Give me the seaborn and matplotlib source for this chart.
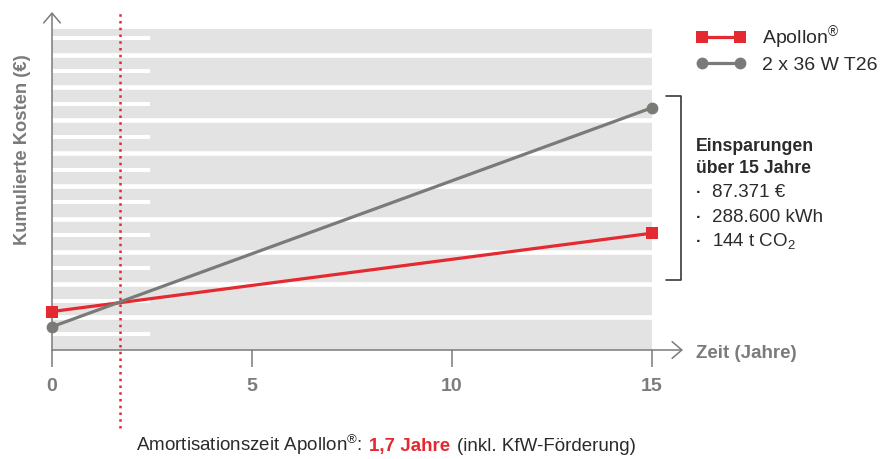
import matplotlib
matplotlib.use('Agg')
import matplotlib.pyplot as plt
from matplotlib.lines import Line2D
from matplotlib.offsetbox import AnchoredOffsetbox, HPacker, TextArea
import pandas as pd
import seaborn as sns

# Daten (Kosten in T€; y-Achse ohne Werte)
jahre = [0, 15]
kosten_apollon = [26.8, 81.4]
kosten_t26 = [16.2, 168.8]
systeme = ['Apollon$^{®}$', '2 x 36 W T26']
xticks = [0, 5, 10, 15]
amortisation = 1.7
einsparungen = ['87.371 €', '288.600 kWh', '144 t CO$_2$']

# Stil
sns.set_theme(style='white')
plt.rcParams['font.family'] = ['Liberation Sans', 'DejaVu Sans']
plt.rcParams['mathtext.default'] = 'regular'

ROT = '#e42931'
GRAU = '#7a7a76'
ACHSE = '#7b7b7b'
BAND_FARBE = '#e3e3e3'
TEXT = '#2b2b2b'
BAND = 22.87          # Hoehe eines Hintergrundstreifens in T€
XMAX = 15.78
YMAX = 10.30 * BAND

W, H = 883, 459


def fx(px):
    return px / W


def fy(py):
    return 1 - py / H


df = pd.DataFrame({
    'Jahr': jahre * 2,
    'Kosten': kosten_apollon + kosten_t26,
    'System': [systeme[0]] * len(jahre) + [systeme[1]] * len(jahre),
})

fig = plt.figure(figsize=(W / 100, H / 100), dpi=100)
ax = fig.add_axes([fx(52), fy(350), (683 - 52) / W, (350 - 12) / H])
ax.set_xlim(0, XMAX)
ax.set_ylim(0, YMAX)

# Hintergrundstreifen
ax.fill_between([0, 15], 0, 9.79 * BAND, color=BAND_FARBE, lw=0, zorder=0)
ax.hlines([BAND * k for k in range(1, 10)], 0, 15, color='white', lw=3.3, zorder=1)
ax.hlines([BAND * (k + 0.5) for k in range(10)], 0, 2.45, color='white', lw=2.9, zorder=1)

sns.lineplot(data=df, x='Jahr', y='Kosten', hue='System', style='System',
             hue_order=systeme, style_order=systeme,
             palette=[ROT, GRAU], markers=['s', 'o'], dashes=False,
             lw=2.3, markersize=8.5, markeredgewidth=0, clip_on=False,
             zorder=5, ax=ax)

# Amortisationszeit
ax.axvline(amortisation, ymin=-0.23, ymax=1.0, clip_on=False, color=ROT,
           lw=1.8, ls=(0, (1, 1.7)), zorder=4)

# Achsen mit Pfeilen
for s in ax.spines.values():
    s.set_visible(False)
pfeil = dict(arrowstyle='->,head_length=0.7,head_width=0.6', color=ACHSE,
             lw=1.1, shrinkA=0, shrinkB=0, mutation_scale=10)
ax.annotate('', xy=(0, 1), xytext=(0, 0), xycoords='axes fraction',
            arrowprops=pfeil, annotation_clip=False)
ax.annotate('', xy=(1, 0), xytext=(0, 0), xycoords='axes fraction',
            arrowprops=pfeil, annotation_clip=False)

ax.set_xticks(xticks)
ax.set_yticks([])
ax.tick_params(axis='x', direction='out', length=12, width=1.1, color=ACHSE,
               labelsize=14, labelcolor=ACHSE, pad=8, bottom=True)
for lbl in ax.get_xticklabels():
    lbl.set_fontweight('bold')

ax.set_xlabel('Zeit (Jahre)', fontsize=13.5, fontweight='bold', color=ACHSE,
              ha='left', va='center')
ax.xaxis.set_label_coords((696 - 52) / 631, (350 - 353) / 338)
ax.set_ylabel('')
fig.text(fx(23), fy(150), 'Kumulierte Kosten (€)', rotation=90, ha='center',
         va='center', fontsize=13.2, fontweight='bold', color=ACHSE)

# Legende
handles, labels = ax.get_legend_handles_labels()
ax.legend(handles, labels, numpoints=2, frameon=False, loc='upper left',
          bbox_to_anchor=(fx(696), fy(24)), bbox_transform=fig.transFigure,
          borderpad=0, borderaxespad=0, handlelength=2.55, handletextpad=0.85,
          labelspacing=0.22, fontsize=14, labelcolor=TEXT)

# Klammer und Einsparungen
fig.add_artist(Line2D([fx(666), fx(681), fx(681), fx(666)],
                      [fy(96), fy(96), fy(280), fy(280)], color='#3a3a3a', lw=1.2))
fig.text(fx(696), fy(151), 'Einsparungen', fontsize=12.7, fontweight='bold',
         color=TEXT, va='baseline')
fig.text(fx(696), fy(173), 'über 15 Jahre', fontsize=12.7, fontweight='bold',
         color=TEXT, va='baseline')
for i, txt in enumerate(einsparungen):
    base = 197 + i * 24.5
    fig.text(fx(699), fy(base), '·', fontsize=12, fontweight='bold',
             color=TEXT, va='baseline', ha='center')
    fig.text(fx(712), fy(base), txt, fontsize=13.5, color=TEXT, va='baseline')

# Fusszeile
teile = [
    TextArea('Amortisationszeit Apollon$^{®}$:', textprops=dict(fontsize=13.5, color=TEXT)),
    TextArea(f'{amortisation:.1f}'.replace('.', ',') + ' Jahre',
             textprops=dict(fontsize=13.5, color=ROT, fontweight='bold')),
    TextArea('(inkl. KfW-Förderung)', textprops=dict(fontsize=13.5, color=TEXT)),
]
fuss = HPacker(children=teile, align='baseline', pad=0, sep=5)
fig.add_artist(AnchoredOffsetbox(loc='lower center', child=fuss, pad=0, borderpad=0,
                                 frameon=False, bbox_to_anchor=(fx(386), fy(457)),
                                 bbox_transform=fig.transFigure))

fig.savefig('out.png', dpi=100)
